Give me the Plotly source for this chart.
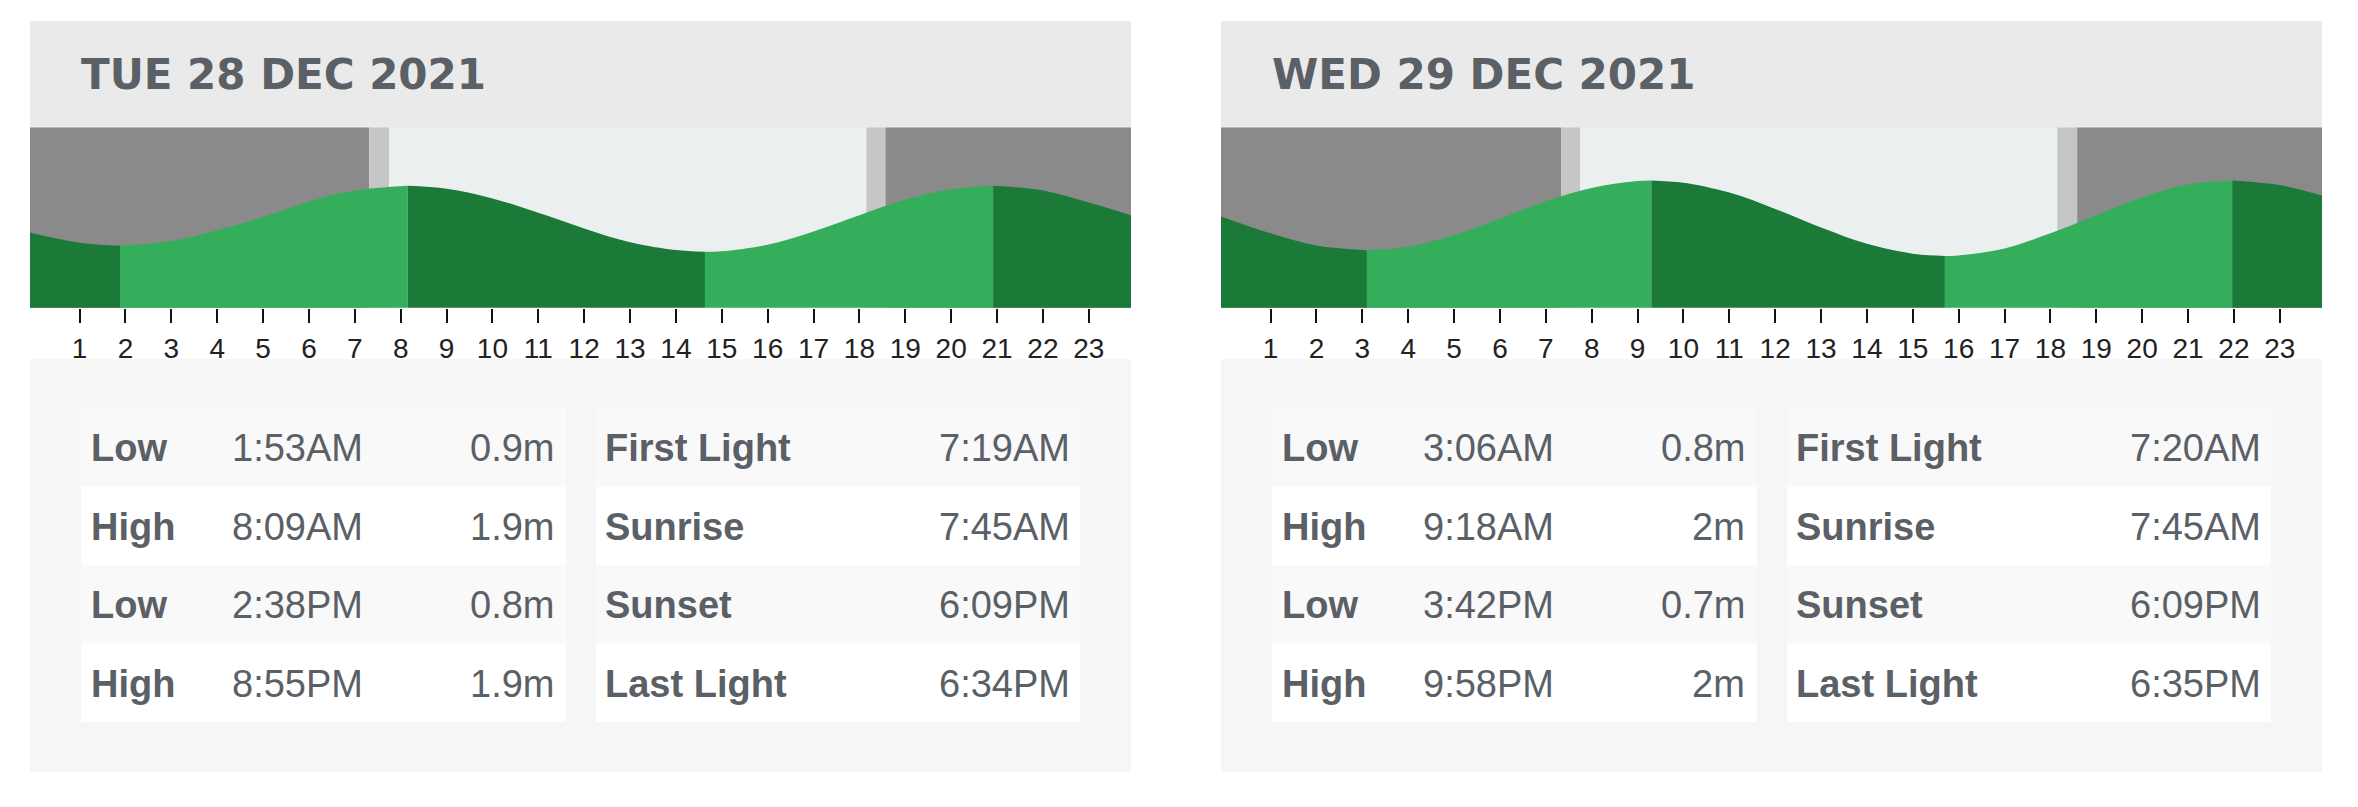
import plotly.graph_objects as go

# tide chart, two days side by side
W, H = 2358, 807
PAD = 8  # page body margin of the html
FW, FH = W - 2 * PAD, H - 2 * PAD

day_titles = ["TUE 28 DEC 2021", "WED 29 DEC 2021"]
hours = list(range(25))
x_range = [-0.08, 23.92]

# curve height at each hour (m)
tue_hourly = [1.12, 0.95, 0.90, 0.98, 1.16, 1.38, 1.64, 1.82, 1.90, 1.85, 1.69, 1.45, 1.19,
              0.96, 0.83, 0.81, 0.92, 1.14, 1.41, 1.67, 1.84, 1.90, 1.82, 1.62, 1.39]
wed_hourly = [1.38, 1.09, 0.88, 0.80, 0.86, 1.06, 1.34, 1.64, 1.87, 1.99, 1.96, 1.79, 1.51,
              1.19, 0.91, 0.74, 0.71, 0.83, 1.09, 1.40, 1.71, 1.93, 2.00, 1.92, 1.72]

tue_tide_type = ["Low", "High", "Low", "High"]
tue_tide_time = ["1:53AM", "8:09AM", "2:38PM", "8:55PM"]
tue_tide_m = [0.9, 1.9, 0.8, 1.9]
wed_tide_type = ["Low", "High", "Low", "High"]
wed_tide_time = ["3:06AM", "9:18AM", "3:42PM", "9:58PM"]
wed_tide_m = [0.8, 2, 0.7, 2]

sun_labels = ["First Light", "Sunrise", "Sunset", "Last Light"]
tue_sun_time = ["7:19AM", "7:45AM", "6:09PM", "6:34PM"]
wed_sun_time = ["7:20AM", "7:45AM", "6:09PM", "6:35PM"]

# visible height range of each chart
tue_yrange = [-0.13, 2.87]
wed_yrange = [-0.19, 2.91]

days = [
    dict(title=day_titles[0], hourly=tue_hourly, ttype=tue_tide_type, ttime=tue_tide_time,
         tm=tue_tide_m, sun=tue_sun_time, yr=tue_yrange),
    dict(title=day_titles[1], hourly=wed_hourly, ttype=wed_tide_type, ttime=wed_tide_time,
         tm=wed_tide_m, sun=wed_sun_time, yr=wed_yrange),
]

DARK = "#1b7a38"
LIGHT = "#35ae5b"
NIGHT = "#8a8a8a"
TWI = "#c6c6c6"
DAY = "#ebeff0"
TXT = "#5a6065"


def to_hour(s):
    hm, ap = s[:-2], s[-2:]
    h, m = hm.split(":")
    h = int(h) % 12 + (12 if ap == "PM" else 0)
    return h + int(m) / 60.0


def px(x):
    return (x - PAD) / FW


def py(y):
    return 1 - (y - PAD) / FH


fig = go.Figure()
shapes = []
annotations = []
offsets = [0, 1191]

for i, d in enumerate(days):
    x0 = 30 + offsets[i]
    x1 = 1131 + offsets[i]
    ax = "" if i == 0 else str(i + 1)
    xr, yr = "x" + ax, "y" + ax

    # header + table background
    shapes.append(dict(type="rect", xref="paper", yref="paper", x0=px(x0), x1=px(x1),
                       y0=py(128), y1=py(21), fillcolor="#eaeaea", line_width=0, layer="below"))
    shapes.append(dict(type="rect", xref="paper", yref="paper", x0=px(x0), x1=px(x1),
                       y0=py(772), y1=py(359), fillcolor="#f6f6f6", line_width=0, layer="below"))
    annotations.append(dict(xref="paper", yref="paper", x=px(x0 + 49), y=py(75),
                            text="<b>" + d["title"] + "</b>", showarrow=False,
                            xanchor="left", yanchor="middle",
                            font=dict(family="DejaVu Sans, sans-serif", size=42, color=TXT)))

    # sky bands
    sun_h = [to_hour(t) for t in d["sun"]]
    edges = [-1] + sun_h + [25]
    cols = [NIGHT, TWI, DAY, TWI, NIGHT]
    for k in range(5):
        shapes.append(dict(type="rect", xref=xr, yref=yr + " domain", x0=edges[k], x1=edges[k + 1],
                           y0=0, y1=1, fillcolor=cols[k], line_width=0, layer="below"))

    # tide segments between extremes (first one starts at the left edge of the axis)
    ext_h = [to_hour(t) for t in d["ttime"]]
    bps = [x_range[0]] + ext_h + [24]
    bvals = [d["hourly"][0]] + d["tm"] + [d["hourly"][24]]
    for k in range(len(bps) - 1):
        a, b = bps[k], bps[k + 1]
        inner = [h for h in hours if max(a, 0) + 0.2 < h < b - 0.2]
        xs = [a] + inner + [b]
        ys = [bvals[k]] + [d["hourly"][h] for h in inner] + [bvals[k + 1]]
        if k < len(d["ttype"]):
            col = LIGHT if d["ttype"][k] == "High" else DARK
        else:
            col = DARK if d["ttype"][-1] == "High" else LIGHT
        base = d["yr"][0] - 1
        fig.add_trace(go.Scatter(x=[a, b], y=[base, base], mode="lines", line_width=0,
                                 xaxis=xr, yaxis=yr, hoverinfo="skip", showlegend=False))
        fig.add_trace(go.Scatter(x=xs, y=ys, mode="lines", line=dict(width=0, shape="spline"),
                                 fill="tonexty", fillcolor=col, xaxis=xr, yaxis=yr,
                                 hoverinfo="skip", showlegend=False))

    fig.update_layout(**{
        "xaxis" + ax: dict(domain=[px(x0), px(x1)], range=x_range, anchor=yr,
                           tickvals=hours[1:24], ticktext=[str(h) for h in hours[1:24]],
                           ticks="outside", ticklen=14, tickwidth=2, tickcolor="#111",
                           showgrid=False, zeroline=False, showline=False, fixedrange=True,
                           ticklabelstandoff=2,
                           tickfont=dict(family="Liberation Sans Narrow, Arial Narrow, Liberation Sans, sans-serif",
                                         size=28, color="#222")),
        "yaxis" + ax: dict(domain=[py(307.7), py(127.5)], range=d["yr"], anchor=xr,
                           visible=False, fixedrange=True),
    })

    # tide / sun table
    for r in range(4):
        top = 408 + r * 78.5
        bg = "#f9f9f9" if r % 2 == 0 else "#ffffff"
        for (a, b) in [(x0 + 51, x0 + 536), (x0 + 566, x0 + 1050)]:
            shapes.append(dict(type="rect", xref="paper", yref="paper", x0=px(a), x1=px(b),
                               y0=py(top + 78.5), y1=py(top), fillcolor=bg, line_width=0,
                               layer="below"))
        yc = py(top + 40)
        f = dict(family="Liberation Sans, Arial, sans-serif", size=38, color=TXT)
        cells = [
            (x0 + 59, "<b>" + d["ttype"][r] + "</b>", "left"),
            (x0 + 200, d["ttime"][r], "left"),
            (x0 + 526, "%gm" % d["tm"][r], "right"),
            (x0 + 573, "<b>" + sun_labels[r] + "</b>", "left"),
            (x0 + 1042, d["sun"][r], "right"),
        ]
        for cx, t, anc in cells:
            annotations.append(dict(xref="paper", yref="paper", x=px(cx), y=yc, text=t,
                                    showarrow=False, xanchor=anc, yanchor="middle", font=f))

fig.update_layout(width=FW, height=FH, margin=dict(l=0, r=0, t=0, b=0),
                  paper_bgcolor="white", plot_bgcolor="rgba(0,0,0,0)",
                  shapes=shapes, annotations=annotations, showlegend=False)

fig.write_html("out.html")
